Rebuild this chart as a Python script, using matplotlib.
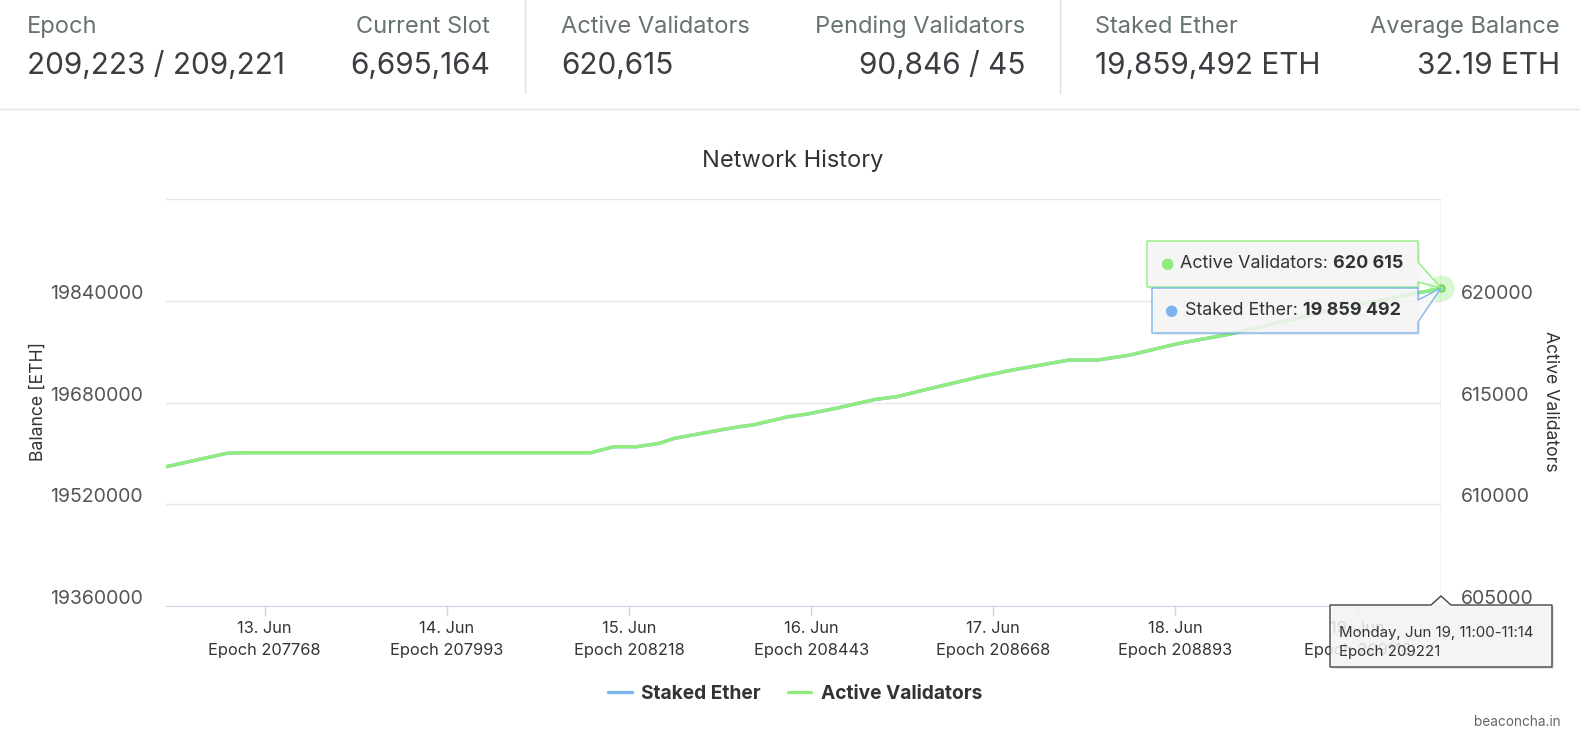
import matplotlib
matplotlib.use("Agg")
import matplotlib.pyplot as plt
from matplotlib.patches import Polygon
from matplotlib.lines import Line2D
from matplotlib.transforms import ScaledTranslation
import pandas as pd

plt.rcParams['font.family'] = ['Inter', 'DejaVu Sans']

# header stats
header_labels = ["Epoch", "Current Slot", "Active Validators",
                 "Pending Validators", "Staked Ether", "Average Balance"]
header_values = ["209,223 / 209,221", "6,695,164", "620,615",
                 "90,846 / 45", "19,859,492 ETH", "32.19 ETH"]

# network history
times = ["2023-06-12 11:00", "2023-06-12 19:00", "2023-06-12 21:00",
         "2023-06-14 19:00", "2023-06-14 22:00", "2023-06-15 01:00",
         "2023-06-15 04:00", "2023-06-15 06:00", "2023-06-15 10:00",
         "2023-06-15 14:30", "2023-06-15 16:15", "2023-06-15 21:00",
         "2023-06-15 23:30", "2023-06-16 03:15", "2023-06-16 08:30",
         "2023-06-16 11:15", "2023-06-16 15:15", "2023-06-16 22:15",
         "2023-06-17 02:30", "2023-06-17 10:00", "2023-06-17 13:45",
         "2023-06-17 18:00", "2023-06-18 00:30", "2023-06-18 07:15",
         "2023-06-18 15:00", "2023-06-18 23:00", "2023-06-19 05:30",
         "2023-06-19 11:00"]
active_validators = [611849, 612508, 612540, 612540, 612833, 612833,
                     613000, 613246, 613521, 613816, 613900, 614308,
                     614441, 614721, 615164, 615291, 615655, 616275,
                     616604, 617096, 617096, 617342, 617917, 618374,
                     619063, 619751, 620218, 620615]
staked_ether = [19579000, 19600100, 19601200, 19601200, 19610500, 19610500,
                19615900, 19623700, 19632500, 19641900, 19644600, 19657700,
                19661900, 19670900, 19685000, 19689100, 19700800, 19720600,
                19731100, 19746900, 19746900, 19754700, 19773100, 19787800,
                19809800, 19831800, 19846800, 19859492]

tick_days = ["2023-06-13", "2023-06-14", "2023-06-15", "2023-06-16",
             "2023-06-17", "2023-06-18", "2023-06-19"]
tick_epochs = [207768, 207993, 208218, 208443, 208668, 208893, 209118]

left_ticks = [19360000, 19520000, 19680000, 19840000, 20000000]
right_ticks = [605000, 610000, 615000, 620000, 625000]

W, H = 1580, 746


def fx(x):
    return x / W


def fy(y):
    return 1 - y / H


t = pd.to_datetime(times)
ticks = pd.to_datetime(tick_days)

fig = plt.figure(figsize=(W / 100, H / 100), dpi=100)
fig.patch.set_facecolor('white')

# header
header_x = [27, 490, 561, 1025, 1095, 1560]
header_ha = ['left', 'right', 'left', 'right', 'left', 'right']
for lab, val, x, ha in zip(header_labels, header_values, header_x, header_ha):
    fig.text(fx(x), fy(33), lab, ha=ha, va='baseline', fontsize=17, color='#66736e')
    fig.text(fx(x), fy(74), val, ha=ha, va='baseline', fontsize=21.4, color='#3a3e42')
for x in [525, 1060]:
    fig.add_artist(Line2D([fx(x)] * 2, [fy(0), fy(93)], color='#dee2e6', lw=1))
fig.add_artist(Line2D([0, 1], [fy(109)] * 2, color='#e3e3e3', lw=1))

# chart
ax = fig.add_axes([fx(166), fy(606), (1441 - 166) / W, (606 - 199.2) / H])
l1, = ax.plot(t, staked_ether, color='#7cb5ec', lw=2.4, solid_capstyle='round')
ax.set_ylim(left_ticks[0], left_ticks[-1])
ax.set_xlim(t[0], t[-1])
ax.set_yticks(left_ticks)
ax.set_yticklabels([str(v) for v in left_ticks[:-1]] + [''], va='baseline')
ax.grid(axis='y', color='#e6e6e6', lw=1)
ax.set_axisbelow(True)
for s in ['top', 'left', 'right']:
    ax.spines[s].set_visible(False)
ax.spines['bottom'].set_color('#ccd6eb')
ax.tick_params(axis='y', length=0, pad=16.6, labelsize=14, labelcolor='#555555')
ax.set_xticks(ticks)
ax.set_xticklabels([f"{d.day}. Jun\nEpoch {e}" for d, e in zip(ticks, tick_epochs)],
                   linespacing=1.6)
ax.tick_params(axis='x', length=7.2, color='#ccd6eb', width=1, pad=3.5,
               labelsize=11.8, labelcolor='#333333')
ax.axvline(t[-1], color='#cccccc', lw=1)

ax2 = ax.twinx()
l2, = ax2.plot(t, active_validators, color='#90ed7d', lw=2.4, solid_capstyle='round')
ax2.set_ylim(right_ticks[0], right_ticks[-1])
ax2.set_yticks(right_ticks)
ax2.set_yticklabels([str(v) for v in right_ticks[:-1]] + [''], va='baseline')
for s in ax2.spines.values():
    s.set_visible(False)
ax2.tick_params(axis='y', length=0, pad=14.4, labelsize=14, labelcolor='#555555')

# lift the y labels a little off their grid lines
lift = ScaledTranslation(0, 0.02, fig.dpi_scale_trans)
for lab in ax.get_yticklabels() + ax2.get_yticklabels():
    lab.set_transform(lab.get_transform() + lift)

ax2.plot(t[-1], active_validators[-1], 'o', ms=19, color='#90ed7d', alpha=0.35,
         mec='none', clip_on=False)
ax2.plot(t[-1], active_validators[-1], 'o', ms=5, color='#90ed7d', mec='#6cc95a',
         mew=1, clip_on=False)

fig.text(fx(793), fy(161), 'Network History', ha='center', va='center',
         fontsize=17, color='#333333')
fig.text(fx(38), fy(401), 'Balance [ETH]', rotation=90, ha='center', va='center',
         fontsize=12.7, color='#333333')
fig.text(fx(1550), fy(401), 'Active Validators', rotation=270, ha='center', va='center',
         fontsize=12.7, color='#333333')

# legend
leg = fig.legend([l1, l2], ['Staked Ether', 'Active Validators'], loc='center',
                 bbox_to_anchor=(fx(795), fy(694)), ncol=2, frameon=False,
                 prop=dict(weight='bold', size=13.8), labelcolor='#333333',
                 handlelength=1.25, handletextpad=0.47, columnspacing=1.4)

fig.text(fx(1561), fy(722), 'beaconcha.in', ha='right', va='center',
         fontsize=9.8, color='#666666')

# tooltips
box_face = (0.97, 0.97, 0.97, 0.85)


def px_poly(pts, **kw):
    p = Polygon([(fx(x), fy(y)) for x, y in pts], closed=True,
                transform=fig.transFigure, **kw)
    fig.add_artist(p)


renderer = fig.canvas.get_renderer()


def tooltip(x0, y0, x1, y1, color, label, value, dot_x, text_x, callout):
    px_poly([(x0 + 2, y0 + 2), (x1 + 2, y0 + 2), (x1 + 2, y1 + 2), (x0 + 2, y1 + 2)],
            facecolor=(0, 0, 0, 0.08), edgecolor='none')
    px_poly([(x0, y0), (x1, y0)] + callout + [(x1, y1), (x0, y1)],
            facecolor=box_face, edgecolor=color, lw=1)
    yc = (y0 + y1) / 2
    fig.text(fx(dot_x), fy(yc), '\u25CF', ha='center', va='center', fontsize=11,
             color=color, family='DejaVu Sans')
    tx = fig.text(fx(text_x), fy(yc), label, ha='left', va='center', fontsize=12.9,
                  color='#333333')
    bb = tx.get_window_extent(renderer)
    fig.text(bb.x1 / W, fy(yc), value, ha='left', va='center', fontsize=12.9,
             weight='bold', color='#333333')


tooltip(1147, 241, 1418, 287, '#90ed7d', 'Active Validators: ', '620 615',
        1167, 1180, [(1418, 262), (1441, 288), (1418, 282)])
tooltip(1152, 288, 1418, 333, '#7cb5ec', 'Staked Ether: ', '19 859 492',
        1171, 1185, [(1418, 300), (1441, 288), (1418, 322)])

px_poly([(1332, 607), (1554, 607), (1554, 669), (1332, 669)],
        facecolor=(0, 0, 0, 0.1), edgecolor='none')
px_poly([(1330, 605), (1431, 605), (1441, 596), (1451, 605), (1552, 605),
         (1552, 667), (1330, 667)], facecolor=box_face, edgecolor='#444444', lw=1)
fig.text(fx(1339), fy(633), 'Monday, Jun 19, 11:00-11:14', ha='left', va='center',
         fontsize=10.8, color='#333333')
fig.text(fx(1339), fy(652), 'Epoch 209221', ha='left', va='center',
         fontsize=10.8, color='#333333')

fig.savefig('out.png', dpi=100)
